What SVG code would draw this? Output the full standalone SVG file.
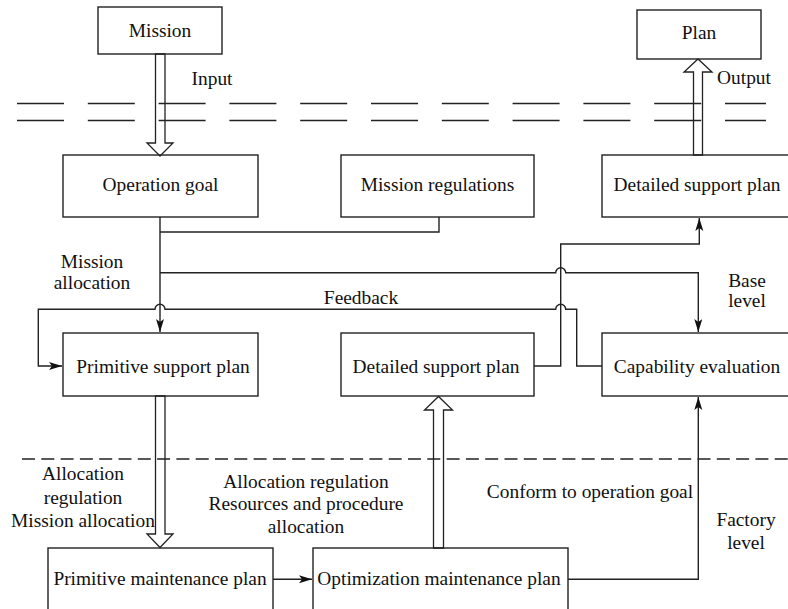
<svg xmlns="http://www.w3.org/2000/svg" width="788" height="609" viewBox="0 0 788 609">
<defs>
<style>
.box{fill:#fff;stroke:#222;stroke-width:1.4}
.t{font-size:19.4px;fill:#111;text-anchor:middle}
.ln{fill:none;stroke:#222;stroke-width:1.4}
.hol{fill:none;stroke:#222;stroke-width:1.3}
.dash2{fill:none;stroke:#222;stroke-width:1.4;stroke-dasharray:47 23.8}
.dash1{fill:none;stroke:#222;stroke-width:1.4;stroke-dasharray:13 6.3}
</style>
<marker id="ah" markerUnits="userSpaceOnUse" markerWidth="14" markerHeight="10" refX="13" refY="4" orient="auto">
<path d="M0,0 L13,4 L0,8 L3,4 z" fill="#111"/>
</marker>
</defs>

<g id="separators">
<line class="dash2" x1="17" y1="103.5" x2="766" y2="103.5"/>
<line class="dash2" x1="17" y1="120.5" x2="766" y2="120.5"/>
<line class="dash1" x1="22" y1="459" x2="788" y2="459"/>
</g>

<g font-family="Liberation Serif, DejaVu Serif, serif">
<g id="node-mission"><rect class="box" x="98" y="7" width="124" height="47"/><text class="t" x="160" y="37">Mission</text></g>
<g id="node-plan"><rect class="box" x="637" y="10" width="124" height="49"/><text class="t" x="699" y="39">Plan</text></g>
<g id="node-operation-goal"><rect class="box" x="63" y="155" width="195" height="62"/><text class="t" x="160.5" y="191">Operation goal</text></g>
<g id="node-mission-regulations"><rect class="box" x="341" y="155" width="193" height="62"/><text class="t" x="437.5" y="191">Mission regulations</text></g>
<g id="node-detailed-support-plan-top"><rect class="box" x="602" y="155" width="200" height="62"/><text class="t" x="697" y="191">Detailed support plan</text></g>
<g id="node-primitive-support-plan"><rect class="box" x="63" y="333" width="195" height="63"/><text class="t" x="163" y="373">Primitive support plan</text></g>
<g id="node-detailed-support-plan"><rect class="box" x="341" y="333" width="193" height="63"/><text class="t" x="436" y="373">Detailed support plan</text></g>
<g id="node-capability-evaluation"><rect class="box" x="602" y="333" width="200" height="63"/><text class="t" x="697" y="373">Capability evaluation</text></g>
<g id="node-primitive-maintenance-plan"><rect class="box" x="48" y="548" width="225" height="80"/><text class="t" x="160" y="585">Primitive maintenance plan</text></g>
<g id="node-optimization-maintenance-plan"><rect class="box" x="313" y="548" width="255" height="80"/><text class="t" x="439" y="585">Optimization maintenance plan</text></g>
</g>

<g id="connectors">
<polygon class="hol" points="155.5,54 155.5,143 147,143 160,156 173,143 165,143 165,54"/>
<polygon class="hol" points="693.5,155 693.5,72 684,72 698,59 712,72 702.5,72 702.5,155"/>
<polygon class="hol" points="155.5,396 155.5,534 147,534 160,547.5 173,534 165,534 165,396"/>
<polygon class="hol" points="433.5,548 433.5,410 424.5,410 438.5,396.5 452.5,410 443.5,410 443.5,548"/>
<path class="ln" d="M160,217 V332" marker-end="url(#ah)"/>
<path class="ln" d="M160,232 H439 V217"/>
<path class="ln" d="M160,272.7 H555.7 A5,5 0 0 1 565.7,272.7 H698.3 V332" marker-end="url(#ah)"/>
<path class="ln" d="M534,366 H560.7 V244 H699.3 V218" marker-end="url(#ah)"/>
<path class="ln" d="M602,366 H576.7 V309.3 H565.7 A5,5 0 0 0 555.7,309.3 H165 A5,5 0 0 0 155,309.3 H38.3 V366 H62" marker-end="url(#ah)"/>
<path class="ln" d="M568,579.3 H698.3 V397" marker-end="url(#ah)"/>
<path class="ln" d="M273,579.3 H312" marker-end="url(#ah)"/>
</g>

<g id="labels" font-family="Liberation Serif, DejaVu Serif, serif">
<text class="t" x="212" y="85">Input</text>
<text class="t" x="744" y="84">Output</text>
<text class="t" x="92" y="268">Mission</text>
<text class="t" x="92" y="289">allocation</text>
<text class="t" x="361" y="304">Feedback</text>
<text class="t" x="747" y="287">Base</text>
<text class="t" x="747" y="307">level</text>
<text class="t" x="83" y="480">Allocation</text>
<text class="t" x="83" y="504">regulation</text>
<text class="t" x="83" y="527">Mission allocation</text>
<text class="t" x="306" y="488">Allocation regulation</text>
<text class="t" x="306" y="510">Resources and procedure</text>
<text class="t" x="306" y="533">allocation</text>
<text class="t" x="590" y="498">Conform to operation goal</text>
<text class="t" x="746" y="526">Factory</text>
<text class="t" x="746" y="549">level</text>
</g>
</svg>
